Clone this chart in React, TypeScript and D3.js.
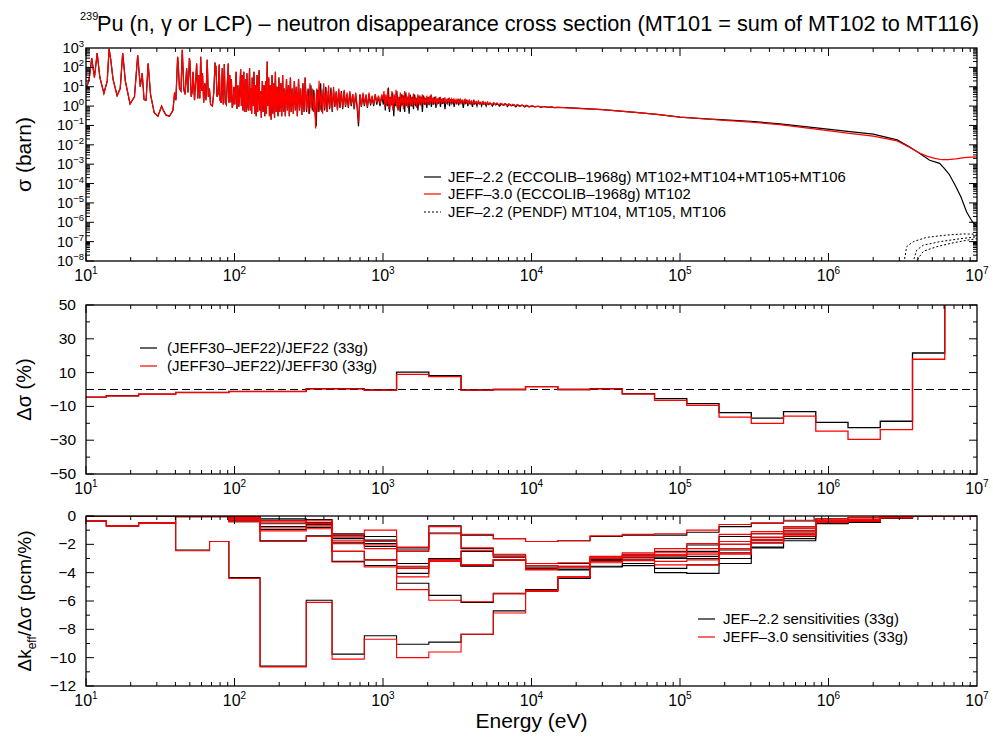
import React from 'react';
import * as d3 from 'd3';

// ---------- DATA ----------
// 33-group boundaries (eV) between 10 eV and 10 MeV
const groupBounds = [10, 13.71, 22.6, 40.17, 67.9, 91.66, 148.6, 304.2, 454.0, 748.5, 1234.1, 2034.7, 3354.6, 5530.8, 9118.8, 15034, 24788, 40868, 67379, 111090, 183156, 301974, 497871, 820850, 1353353, 2231302, 3678794, 6065307, 1e7];

// top panel: JEFF-3.0 MT102 resolved resonance region (E eV, sigma barn)
const jeff30Resonance: [number, number][] = [
  [10, 7], [10.5, 25], [10.93, 300], [11.4, 30], [11.89, 550], [12.4, 30], [13.2, 4.5], [13.9, 20], [14.31, 900], [14.68, 250], [15.2, 25], [16.2, 3.5], [17.0, 8], [17.66, 550], [18.4, 20], [19.8, 1.3], [21.2, 3], [22.29, 420], [23.2, 10], [23.9, 50], [24.6, 2.2], [25.4, 2], [26.2, 160], [27.2, 4], [28.8, 0.45], [30.5, 0.3], [32.3, 1.0], [33.2, 0.6], [34.5, 0.35], [36.5, 0.3], [38.5, 0.6], [39.5, 5], [40.3, 2], [41.4, 350], [41.7, 200], [42.6, 8], [43.6, 6], [44.5, 800], [45.6, 7], [46.5, 4], [47.6, 90], [48.6, 5], [49.7, 300], [50.1, 180], [51.1, 3], [52.0, 6], [52.6, 60], [53.8, 2], [55.6, 160], [56.6, 2.5], [57.4, 40], [58.4, 2.5], [59.2, 350], [60.1, 6], [60.9, 50], [62.0, 1.5], [63.1, 15], [64.2, 2], [65.5, 250], [66.6, 3], [67.8, 8], [69.0, 1.2], [71.0, 1.0], [72.5, 5], [74.0, 180], [74.6, 40], [75.0, 120], [76.2, 3], [77.5, 4], [78.9, 140], [80.0, 2], [81.5, 1.5], [82.7, 90], [84.0, 1.2], [85.4, 150], [86.6, 1.5], [88.0, 1.2], [90.8, 160], [91.8, 1.5], [92.9, 40], [94.0, 1.6], [95.3, 25], [96.6, 0.8], [98.0, 1.5], [99.1, 10], [100.5, 1.2], [102.6, 60], [103.8, 0.7], [105.4, 12], [106.8, 0.9], [108.2, 3], [110.0, 80], [111.2, 1.0], [112.8, 40], [114.0, 0.6], [115.5, 60], [116.8, 0.5], [118.8, 25], [120.0, 0.5], [121.2, 50], [122.6, 1.2], [124.0, 0.6], [126.3, 90], [127.6, 0.6], [129.0, 8], [130.5, 0.4], [131.6, 30], [133.0, 1.0], [135.3, 60], [136.6, 0.4], [138.5, 12], [140.0, 0.3], [141.9, 40], [143.3, 0.5], [146.4, 70], [148.0, 0.6], [150.0, 6], [151.6, 0.25], [154.0, 20], [156.0, 0.5], [158.0, 12], [160.0, 0.3], [162.0, 20], [164.0, 0.4], [166.0, 200], [167.5, 1], [170.0, 30], [172.0, 0.3], [174.5, 12], [176.5, 0.2], [179.0, 40], [181.0, 0.4], [183.5, 15], [186.0, 0.25], [188.5, 60], [191.0, 0.5], [194.0, 10], [196.5, 0.3], [199.0, 30], [202.0, 0.5], [205.0, 15], [208.0, 0.3], [211.0, 40], [214.0, 0.5], [217.0, 8], [220.0, 0.3], [224.0, 25], [227.0, 0.6], [231.0, 12], [234.0, 0.3], [238.0, 30], [241.0, 0.5], [245.0, 8], [249.0, 0.4], [253.0, 20], [257.0, 0.6], [261.0, 10], [265.0, 0.3], [270.0, 25], [274.0, 0.6], [279.0, 8], [284.0, 0.35], [289.0, 15], [294.0, 0.5], [299.0, 30], [304.0, 0.6], [310.0, 6], [316.0, 0.4], [322.0, 15], [328.0, 0.8], [334.0, 8], [340.0, 0.5], [346.0, 5], [352.0, 0.07], [358.0, 8], [364.0, 0.5], [371.0, 20], [378.0, 0.6], [385.0, 6], [392.0, 0.4], [399.0, 15], [406.0, 0.7], [414.0, 8], [422.0, 0.5], [430.0, 12], [438.0, 0.8], [447.0, 6], [456.0, 0.6], [465.0, 10], [474.0, 1], [484.0, 6], [494.0, 0.6], [504.0, 8], [514.0, 1], [525.0, 5], [536.0, 0.8], [548.0, 7], [560.0, 1], [572.0, 5], [585.0, 0.9], [598.0, 6], [612.0, 1.2], [626.0, 4], [640.0, 0.8], [655.0, 5], [670.0, 1], [686.0, 0.15], [700.0, 4], [716.0, 1], [733.0, 5], [750.0, 1.2], [768.0, 4], [786.0, 0.9], [805.0, 5], [825.0, 1.3], [845.0, 3.5], [866.0, 1.2], [887.0, 4], [910.0, 1.5], [933.0, 3.5], [957.0, 1.3], [982.0, 4],
  [1000, 2], [1015, 6], [1030, 0.9], [1045, 4], [1060, 1.2], [1078, 8], [1095, 0.7], [1112, 3], [1130, 1], [1148, 6], [1166, 0.6], [1185, 4], [1204, 1.2], [1224, 7], [1244, 0.8], [1265, 3], [1286, 0.6], [1308, 5], [1330, 1], [1352, 4], [1375, 0.7], [1398, 6], [1422, 1.1], [1446, 3.5], [1471, 0.8], [1496, 5], [1522, 1], [1548, 3], [1575, 0.9], [1602, 4.5], [1630, 1.2], [1658, 3], [1687, 0.8], [1716, 4], [1746, 1.2], [1777, 3.5], [1808, 1], [1840, 4], [1872, 1.3], [1905, 3], [1938, 1.1], [1972, 3.5], [2007, 1.2], [2042, 3], [2078, 1.3], [2115, 4], [2152, 1.2], [2190, 2.8], [2229, 1.4], [2268, 3.2], [2308, 1.1], [2349, 2.6], [2390, 1.4], [2432, 3], [2475, 1.3], [2519, 2.5], [2563, 1.5], [2608, 2.8], [2654, 1.3], [2701, 2.4], [2749, 1.5], [2797, 2.7], [2846, 1.4], [2896, 2.3], [2947, 1.5], [2999, 2.5], [3052, 1.4], [3106, 2.2], [3160, 1.5], [3216, 2.4], [3273, 1.3], [3330, 2.2], [3389, 1.5], [3449, 2.0], [3510, 1.4], [3572, 2.2], [3635, 1.5], [3699, 1.9], [3764, 1.3], [3830, 2.0], [3898, 1.4], [3966, 1.8], [4036, 1.3], [4108, 1.9], [4180, 1.4], [4254, 1.7], [4329, 1.3], [4405, 1.8], [4483, 1.3], [4562, 1.6], [4643, 1.25], [4725, 1.7], [4808, 1.3], [4893, 1.55], [4979, 1.2], [5067, 1.6], [5157, 1.25], [5248, 1.5], [5400, 1.15], [5550, 1.5], [5700, 1.2], [5850, 1.45], [6000, 1.1], [6200, 1.4], [6400, 1.15], [6600, 1.35], [6800, 1.05], [7000, 1.3], [7250, 1.05], [7500, 1.25], [7750, 1.0], [8000, 1.2], [8300, 0.95], [8600, 1.15], [8900, 0.95], [9200, 1.1], [9600, 0.9], [10000, 1.05], [10500, 0.92], [11000, 1.0], [11500, 0.88], [12000, 0.95], [12700, 0.86], [13500, 0.92], [14200, 0.84]
];

// top panel: JEFF-3.0 MT102 smooth region
const jeff30Smooth: [number, number][] = [
  [1.5e4, 0.86], [2e4, 0.77], [3e4, 0.65], [5e4, 0.47], [7e4, 0.37], [1e5, 0.27], [1.5e5, 0.215], [2e5, 0.185], [3e5, 0.15], [4.7e5, 0.11], [8e5, 0.066], [1.3e6, 0.041], [2e6, 0.028], [2.9e6, 0.016], [3.5e6, 0.0075], [4.1e6, 0.0038], [4.6e6, 0.0026], [5.2e6, 0.002], [5.8e6, 0.0017], [6.4e6, 0.0017], [7.2e6, 0.0019], [8.2e6, 0.0022], [9.2e6, 0.0023], [1e7, 0.0024]
];

// top panel: JEF-2.2 sum above 300 eV, where it differs from JEFF-3.0
const jef22Resonance: [number, number][] = [
  [300, 20], [306, 0.5], [313, 8], [320, 0.4], [327, 12], [334, 0.6], [342, 7], [349, 0.4], [355, 0.09], [361, 7], [370, 0.5], [380, 15], [388, 0.5], [396, 8], [404, 0.6], [412, 10], [420, 0.5], [428, 6], [437, 0.7], [446, 9], [455, 0.5], [464, 7], [474, 0.9], [483, 5], [493, 0.7], [503, 7], [513, 0.8], [524, 6], [535, 0.7], [547, 6], [559, 0.9], [571, 4], [584, 0.8], [597, 5], [611, 1], [625, 4], [639, 0.7], [654, 4], [669, 0.9], [684, 0.09], [698, 4], [715, 0.9], [732, 4], [749, 1], [767, 3.5], [785, 0.8], [804, 4], [824, 1.1], [844, 3], [865, 1], [886, 4], [908, 1.2], [931, 3], [955, 1], [980, 3.5],
  [1005, 1.2], [1020, 4], [1036, 0.6], [1052, 3], [1070, 1], [1088, 9], [1106, 0.5], [1124, 3], [1142, 1.1], [1160, 5], [1182, 0.3], [1200, 3.5], [1220, 1], [1240, 6], [1262, 0.6], [1284, 3], [1306, 0.5], [1330, 4], [1352, 1.1], [1376, 3.5], [1400, 0.5], [1424, 5], [1448, 1], [1474, 3], [1499, 0.4], [1525, 4], [1551, 1], [1578, 3], [1605, 0.7], [1633, 4], [1661, 1], [1690, 2.6], [1719, 0.6], [1749, 3.5], [1779, 1.1], [1810, 3], [1842, 0.5], [1874, 3.5], [1906, 1.2], [1939, 2.6], [1973, 0.8], [2008, 3], [2043, 1.1], [2080, 3.5], [2117, 0.9], [2154, 2.5], [2193, 1.2], [2232, 3], [2272, 0.8], [2312, 2.4], [2353, 1.3], [2395, 2.8], [2437, 0.9], [2480, 2.3], [2524, 1.3], [2569, 2.6], [2615, 0.7], [2661, 2.2], [2709, 1.4], [2757, 2.5], [2806, 1.0], [2856, 2.2], [2907, 1.4], [2959, 2.3], [3012, 0.9], [3066, 2.1], [3121, 1.4], [3177, 2.2], [3234, 1.1], [3292, 2.0], [3351, 1.4], [3411, 2.1], [3472, 0.8], [3534, 1.9], [3597, 1.4], [3661, 1.9], [3727, 1.0], [3794, 1.8], [3862, 1.3], [3931, 1.7], [4002, 0.9], [4074, 1.8], [4147, 1.3], [4221, 1.6], [4297, 1.0], [4374, 1.7], [4452, 1.3], [4532, 1.5], [4613, 1.0], [4696, 1.6], [4780, 1.25], [4866, 1.45], [4953, 1.0], [5042, 1.5], [5133, 1.2], [5300, 1.4], [5450, 1.0], [5600, 1.4], [5750, 1.15], [5900, 1.35], [6100, 1.0], [6300, 1.3], [6500, 1.1], [6700, 1.3], [6900, 0.95], [7100, 1.25], [7350, 1.05], [7600, 1.2], [7850, 0.9], [8100, 1.15], [8400, 1.0], [8700, 1.12], [9000, 0.9], [9300, 1.08], [9700, 0.92], [10100, 1.03], [10600, 0.9], [11100, 0.98], [11600, 0.87], [12200, 0.95], [12900, 0.86], [13600, 0.91], [14300, 0.84]
];

const jef22Smooth: [number, number][] = [
  [1.5e4, 0.87], [2e4, 0.78], [3e4, 0.66], [5e4, 0.47], [7e4, 0.37], [1e5, 0.27], [1.5e5, 0.22], [2e5, 0.195], [3e5, 0.165], [4.7e5, 0.12], [8e5, 0.078], [1.3e6, 0.051], [2e6, 0.036], [2.9e6, 0.018], [3.5e6, 0.008], [4.1e6, 0.0037], [4.8e6, 0.0016], [5.6e6, 0.0011], [6.0e6, 6.3e-4], [6.5e6, 3e-4], [7.2e6, 7e-5], [7.8e6, 2e-5], [8.5e6, 3.5e-6], [9.3e6, 1.07e-6], [1e7, 6e-7]
];

// top panel: JEF-2.2 PENDF MT104, MT105, MT106 (dotted)
const pendfMT104: [number, number][] = [[3.22e6, 8e-9], [3.36e6, 5.5e-8], [3.72e6, 1e-7], [4.58e6, 1.66e-7], [6.25e6, 2.19e-7], [8.09e6, 2.5e-7], [1e7, 2.4e-7]];
const pendfMT105: [number, number][] = [[3.69e6, 8e-9], [3.93e6, 3.7e-8], [4.36e6, 6.6e-8], [5.64e6, 1e-7], [7.69e6, 1.41e-7], [1e7, 1.78e-7]];
const pendfMT106: [number, number][] = [[3.82e6, 8e-9], [4.36e6, 3.2e-8], [5.36e6, 5.5e-8], [6.92e6, 8.7e-8], [8.97e6, 1.26e-7], [1e7, 1.41e-7]];

// middle panel: delta sigma (%) per group
const dSigmaJEF22 = [-4.5, -3.7, -2.7, -1.7, -1.7, -1.1, -1.1, 0.5, 0.5, -0.3, 10.3, 8.2, -0.3, 0, 1.7, 0, 0.5, -2.5, -5.4, -8.4, -13.7, -16.9, -13.1, -19.4, -22.6, -18.8, 21.6, 120];
const dSigmaJEFF30 = [-4.7, -3.8, -2.8, -1.8, -1.8, -1.2, -1.2, 0.4, 0.4, -0.4, 9.0, 7.6, -0.4, 0, 1.7, 0, 0.4, -2.6, -6.4, -9.4, -16.3, -20.0, -15.7, -24.6, -29.5, -23.8, 17.9, 120];

// bottom panel: sensitivity profiles (pcm/%) per group, several benchmarks
const sensJEF22 = [
  [-0.35, -0.7, -0.5, -2.4, -1.8, -4.35, -10.6, -5.95, -9.75, -8.45, -9.05, -8.9, -8.35, -6.7, -5.3, -4.4, -3.05, -2.95, -2.9, -2.85, -2.4, -1.75, -1.2, -0.45, -0.35, -0.12, -0.03, 0],
  [-0.35, -0.7, -0.5, -0.05, -0.05, -0.05, -0.2, -0.25, -1.25, -1.45, -2.25, -0.7, -1.35, -1.6, -1.8, -1.75, -1.45, -1.35, -1.35, -1.15, -0.75, -0.5, -0.35, -0.2, -0.12, -0.03, 0, 0],
  [0, 0, 0, 0, 0, -0.1, -0.5, -0.45, -1.4, -1.7, -2.4, -1.2, -2.3, -2.75, -3.35, -3.35, -3.2, -2.7, -2.5, -2.05, -1.45, -1.25, -0.85, -0.35, -0.25, -0.07, -0.01, 0],
  [0, 0, 0, 0, 0, -0.2, -0.75, -0.6, -1.6, -1.95, -3.35, -3.0, -2.5, -2.9, -3.6, -3.6, -3.15, -2.9, -2.75, -2.5, -2.0, -1.5, -1.05, -0.4, -0.3, -0.1, -0.02, 0],
  [0, 0, 0, 0, 0, -0.3, -0.95, -0.8, -1.85, -2.15, -3.6, -3.1, -3.55, -3.1, -3.75, -3.75, -3.55, -3.35, -4.0, -4.05, -3.35, -2.25, -1.75, -0.55, -0.45, -0.15, -0.03, 0],
  [0, 0, 0, 0, 0, -0.4, -1.75, -1.4, -3.2, -3.5, -4.05, -3.05, -3.5, -3.1, -3.7, -3.8, -3.6, -3.5, -3.7, -3.45, -3.0, -2.2, -1.6, -0.5, -0.4, -0.15, -0.03, 0],
  [0, 0, 0, 0, 0, -0.05, -0.3, -0.5, -2.5, -3.1, -4.75, -5.6, -6.1, -5.45, -5.2, -4.4, -3.1, -3.05, -3.0, -3.0, -2.6, -1.9, -1.45, -0.5, -0.4, -0.14, -0.03, 0]
];
const sensJEFF30 = [
  [-0.35, -0.7, -0.5, -2.45, -1.8, -4.4, -10.65, -6.1, -10.1, -8.7, -10.0, -9.6, -8.35, -6.85, -5.3, -4.3, -2.85, -2.8, -2.7, -2.6, -2.0, -1.5, -1.05, -0.4, -0.3, -0.1, -0.02, 0],
  [-0.35, -0.7, -0.5, -0.05, -0.05, -0.1, -0.35, -0.3, -1.3, -1.0, -2.2, -0.75, -1.3, -1.6, -1.8, -1.75, -1.4, -1.3, -1.25, -1.0, -0.6, -0.5, -0.3, -0.2, -0.1, -0.03, 0, 0],
  [0, 0, 0, 0, 0, -0.15, -0.55, -0.5, -1.5, -1.8, -2.5, -1.25, -2.25, -2.7, -3.35, -3.3, -2.9, -2.6, -2.3, -1.95, -1.3, -1.1, -0.75, -0.3, -0.22, -0.06, -0.01, 0],
  [0, 0, 0, 0, 0, -0.25, -0.85, -0.7, -1.75, -2.05, -3.55, -3.1, -2.45, -2.85, -3.5, -3.55, -3.0, -2.75, -2.55, -2.3, -1.8, -1.25, -0.9, -0.35, -0.25, -0.08, -0.02, 0],
  [0, 0, 0, 0, 0, -0.35, -1.05, -0.9, -1.95, -2.3, -3.7, -3.2, -3.45, -3.1, -3.8, -3.55, -3.2, -3.1, -3.45, -3.45, -2.6, -1.7, -1.3, -0.45, -0.35, -0.12, -0.03, 0],
  [0, 0, 0, 0, 0, -0.4, -1.8, -1.45, -3.25, -3.6, -4.3, -3.1, -3.45, -3.1, -3.75, -3.6, -3.3, -3.15, -3.2, -3.1, -2.7, -1.9, -1.4, -0.45, -0.35, -0.12, -0.03, 0],
  [0, 0, 0, 0, 0, -0.05, -0.35, -0.55, -2.5, -3.1, -5.2, -5.95, -6.05, -5.5, -5.25, -4.3, -2.9, -2.9, -2.8, -2.7, -2.3, -1.65, -1.25, -0.45, -0.35, -0.12, -0.03, 0]
];

const xDecades = [1, 2, 3, 4, 5, 6, 7];
const topYDecades = [-8, -7, -6, -5, -4, -3, -2, -1, 0, 1, 2, 3];
const midYTicks = [-50, -30, -10, 10, 30, 50];
const botYTicks = [0, -2, -4, -6, -8, -10, -12];

const topLegend = ['JEF–2.2 (ECCOLIB–1968g) MT102+MT104+MT105+MT106', 'JEFF–3.0 (ECCOLIB–1968g) MT102', 'JEF–2.2 (PENDF) MT104, MT105, MT106'];
const midLegend = ['(JEFF30–JEF22)/JEF22 (33g)', '(JEFF30–JEF22)/JEFF30 (33g)'];
const botLegend = ['JEF–2.2 sensitivities (33g)', 'JEFF–3.0 sensitivities (33g)'];

// ---------- LAYOUT ----------
const L = 86, R = 977;
const TOP = { t: 48, b: 261 };
const MID = { t: 305, b: 474 };
const BOT = { t: 516, b: 686 };
const FONT = "'Liberation Sans', Arial, Helvetica, sans-serif";
const RED = '#ff0000';

const minus = (v: number) => (v < 0 ? '−' + Math.abs(v) : String(v));

function XLogTicks({ x, t, b }: { x: d3.ScaleLogarithmic<number, number>; t: number; b: number }) {
  const ticks: JSX.Element[] = [];
  for (let d = 1; d <= 6; d++) {
    for (let k = 1; k <= 9; k++) {
      const v = k * Math.pow(10, d);
      const len = k === 1 ? 8 : 4;
      const px = x(v);
      ticks.push(<line key={`b${d}${k}`} x1={px} x2={px} y1={b} y2={b - len} stroke="#000" />);
      ticks.push(<line key={`t${d}${k}`} x1={px} x2={px} y1={t} y2={t + len} stroke="#000" />);
    }
  }
  return (
    <g>
      {ticks}
      {xDecades.map((d) => (
        <text key={d} x={x(Math.pow(10, d))} y={b + 20} textAnchor="middle" fontSize={16}>
          10<tspan dy={-7} fontSize={10}>{d}</tspan>
        </text>
      ))}
    </g>
  );
}

function Frame({ t, b }: { t: number; b: number }) {
  return <rect x={L} y={t} width={R - L} height={b - t} fill="none" stroke="#000" strokeWidth={1.3} />;
}

export default function App() {
  const x = d3.scaleLog().domain([10, 1e7]).range([L, R]);
  const yTop = d3.scaleLog().domain([1e-8, 1e3]).range([TOP.b, TOP.t]);
  const yMid = d3.scaleLinear().domain([-50, 50]).range([MID.b, MID.t]);
  const yBot = d3.scaleLinear().domain([-12, 0]).range([BOT.b, BOT.t]);

  const xsLine = d3
    .line<[number, number]>()
    .x((d) => x(d[0]))
    .y((d) => yTop(Math.max(d[1], 1e-9)));

  const red = [...jeff30Resonance, ...jeff30Smooth];
  const black = [...jeff30Resonance.filter((d) => d[0] < 300), ...jef22Resonance, ...jef22Smooth];

  const stepPts = (vals: number[]): [number, number][] =>
    groupBounds.map((e, i) => [e, vals[Math.min(i, vals.length - 1)]]);
  const stepMid = d3
    .line<[number, number]>()
    .x((d) => x(d[0]))
    .y((d) => yMid(d[1]))
    .curve(d3.curveStepAfter);
  const stepBot = d3
    .line<[number, number]>()
    .x((d) => x(d[0]))
    .y((d) => yBot(d[1]))
    .curve(d3.curveStepAfter);

  const topYTicks: JSX.Element[] = [];
  for (let d = -8; d <= 2; d++) {
    for (let k = 1; k <= 9; k++) {
      const v = k * Math.pow(10, d);
      const len = k === 1 ? 8 : 4;
      const py = yTop(v);
      topYTicks.push(<line key={`l${d}${k}`} x1={L} x2={L + len} y1={py} y2={py} stroke="#000" />);
      topYTicks.push(<line key={`r${d}${k}`} x1={R} x2={R - len} y1={py} y2={py} stroke="#000" />);
    }
  }
  const midTicks = d3.range(-50, 51, 10).map((v) => {
    const len = midYTicks.includes(v) ? 8 : 4;
    const py = yMid(v);
    return (
      <g key={v}>
        <line x1={L} x2={L + len} y1={py} y2={py} stroke="#000" />
        <line x1={R} x2={R - len} y1={py} y2={py} stroke="#000" />
      </g>
    );
  });
  const botTicks = d3.range(-12, 1, 1).map((v) => {
    const len = v % 2 === 0 ? 8 : 4;
    const py = yBot(v);
    return (
      <g key={v}>
        <line x1={L} x2={L + len} y1={py} y2={py} stroke="#000" />
        <line x1={R} x2={R - len} y1={py} y2={py} stroke="#000" />
      </g>
    );
  });

  return (
    <svg
      width={993}
      height={740}
      style={{ position: 'absolute', left: 0, top: 0, display: 'block' }}
      fontFamily={FONT}
    >
      <defs>
        <clipPath id="cTop"><rect x={L} y={TOP.t} width={R - L} height={TOP.b - TOP.t} /></clipPath>
        <clipPath id="cMid"><rect x={L} y={MID.t} width={R - L} height={MID.b - MID.t} /></clipPath>
        <clipPath id="cBot"><rect x={L} y={BOT.t} width={R - L} height={BOT.b - BOT.t} /></clipPath>
      </defs>
      <rect width={993} height={740} fill="#fff" />

      {/* Title */}
      <text x={80} y={20} fontSize={11}>239</text>
      <text x={97} y={31} fontSize={22} textLength={882} lengthAdjust="spacingAndGlyphs">
        Pu (n, γ or LCP) – neutron disappearance cross section (MT101 = sum of MT102 to MT116)
      </text>

      {/* ---------- TOP PANEL ---------- */}
      <g clipPath="url(#cTop)">
        <path d={xsLine(black) || ''} fill="none" stroke="#000" strokeWidth={1.2} />
        <path d={xsLine(red) || ''} fill="none" stroke={RED} strokeWidth={1.2} />
        {[pendfMT104, pendfMT105, pendfMT106].map((s, i) => (
          <path key={i} d={xsLine(s) || ''} fill="none" stroke="#000" strokeWidth={1} strokeDasharray="2,2" />
        ))}
      </g>
      {topYTicks}
      <XLogTicks x={x} t={TOP.t} b={TOP.b} />
      {topYDecades.map((d) => (
        <text key={d} x={84} y={yTop(Math.pow(10, d)) + 5} textAnchor="end" fontSize={14.5}>
          10<tspan dy={-6} fontSize={9.5}>{minus(d)}</tspan>
        </text>
      ))}
      <Frame t={TOP.t} b={TOP.b} />
      <text transform={`translate(31,${(TOP.t + TOP.b) / 2}) rotate(-90)`} textAnchor="middle" fontSize={21}>
        σ (barn)
      </text>
      {topLegend.map((s, i) => {
        const yy = [177, 194, 212][i];
        return (
          <g key={i}>
            <line x1={424} x2={441} y1={yy} y2={yy} stroke={i === 1 ? RED : '#000'} strokeWidth={1.2} strokeDasharray={i === 2 ? '2,2' : undefined} />
            <text x={448} y={yy + 5} fontSize={14.8}>{s}</text>
          </g>
        );
      })}

      {/* ---------- MIDDLE PANEL ---------- */}
      <g clipPath="url(#cMid)">
        <line x1={L} x2={R} y1={yMid(0)} y2={yMid(0)} stroke="#000" strokeWidth={1.2} strokeDasharray="8,4" />
        <path d={stepMid(stepPts(dSigmaJEF22)) || ''} fill="none" stroke="#000" strokeWidth={1.3} />
        <path d={stepMid(stepPts(dSigmaJEFF30)) || ''} fill="none" stroke={RED} strokeWidth={1.3} />
      </g>
      {midTicks}
      <XLogTicks x={x} t={MID.t} b={MID.b} />
      {midYTicks.map((v) => (
        <text key={v} x={76} y={yMid(v) + 5} textAnchor="end" fontSize={15.5}>{minus(v)}</text>
      ))}
      <Frame t={MID.t} b={MID.b} />
      <text transform={`translate(31,${(MID.t + MID.b) / 2}) rotate(-90)`} textAnchor="middle" fontSize={20}>
        Δσ (%)
      </text>
      {midLegend.map((s, i) => {
        const yy = [348, 366][i];
        return (
          <g key={i}>
            <line x1={140} x2={157} y1={yy} y2={yy} stroke={i === 1 ? RED : '#000'} strokeWidth={1.2} />
            <text x={167} y={yy + 5} fontSize={15}>{s}</text>
          </g>
        );
      })}

      {/* ---------- BOTTOM PANEL ---------- */}
      <g clipPath="url(#cBot)">
        {sensJEF22.map((s, i) => (
          <path key={`k${i}`} d={stepBot(stepPts(s)) || ''} fill="none" stroke="#000" strokeWidth={1.1} />
        ))}
        {sensJEFF30.map((s, i) => (
          <path key={`r${i}`} d={stepBot(stepPts(s)) || ''} fill="none" stroke={RED} strokeWidth={1.1} />
        ))}
      </g>
      {botTicks}
      <XLogTicks x={x} t={BOT.t} b={BOT.b} />
      {botYTicks.map((v) => (
        <text key={v} x={76} y={yBot(v) + 5} textAnchor="end" fontSize={15.5}>{minus(v)}</text>
      ))}
      <Frame t={BOT.t} b={BOT.b} />
      <text transform={`translate(31,${(BOT.t + BOT.b) / 2}) rotate(-90)`} textAnchor="middle" fontSize={19}>
        Δk<tspan fontSize={12} dy={5}>eff</tspan><tspan dy={-5}>/Δσ (pcm/%)</tspan>
      </text>
      {botLegend.map((s, i) => {
        const yy = [619, 637][i];
        return (
          <g key={i}>
            <line x1={698} x2={715} y1={yy} y2={yy} stroke={i === 1 ? RED : '#000'} strokeWidth={1.2} />
            <text x={723} y={yy + 5} fontSize={15}>{s}</text>
          </g>
        );
      })}
      <text x={(L + R) / 2} y={728} textAnchor="middle" fontSize={21}>Energy (eV)</text>
    </svg>
  );
}
